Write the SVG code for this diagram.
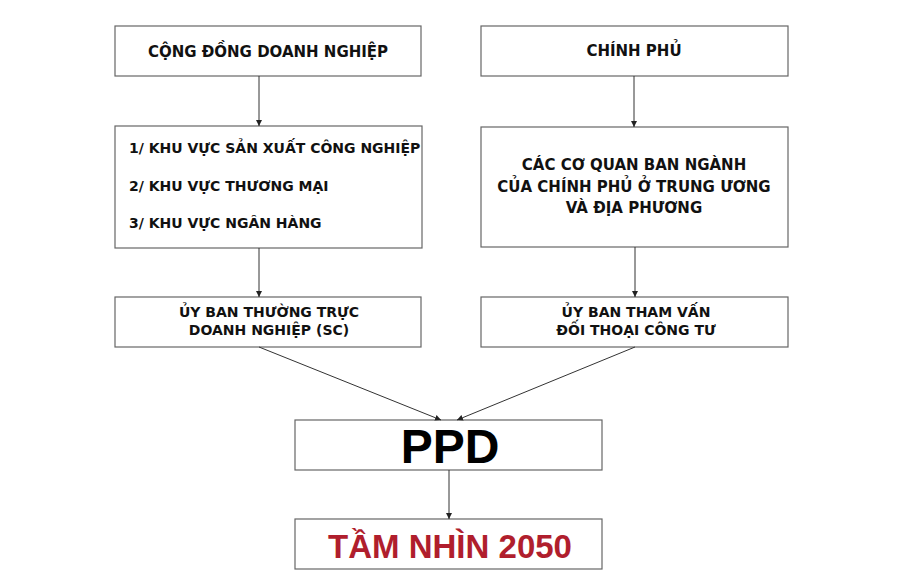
<svg xmlns="http://www.w3.org/2000/svg" width="897" height="571" viewBox="0 0 897 571">
<defs>
<marker id="ah" viewBox="0 0 10 10" refX="10" refY="5" markerWidth="6" markerHeight="6" orient="auto" markerUnits="userSpaceOnUse">
<path d="M0,0 L10,5 L0,10 z" fill="#222"/>
</marker>
<style>
.box{fill:#fff;stroke:#666;stroke-width:1.2}
.t{font-family:"DejaVu Sans",Verdana,sans-serif;font-weight:bold;fill:#111}
.c{stroke:#333;stroke-width:1;fill:none;marker-end:url(#ah)}
</style>
</defs>
<rect width="897" height="571" fill="#fff"/>
<g id="cong-dong">
<rect class="box" x="115" y="26" width="306" height="50"/>
<text class="t" x="268" y="57" font-size="15" text-anchor="middle">CỘNG ĐỒNG DOANH NGHIỆP</text>
</g>
<g id="khu-vuc">
<rect class="box" x="115" y="126" width="307" height="122"/>
<text class="t" x="129" y="153" font-size="14">1/ KHU VỰC SẢN XUẤT CÔNG NGHIỆP</text>
<text class="t" x="129" y="191" font-size="14">2/ KHU VỰC THƯƠNG MẠI</text>
<text class="t" x="129" y="228" font-size="14">3/ KHU VỰC NGÂN HÀNG</text>
</g>
<g id="chinh-phu">
<rect class="box" x="481" y="26" width="307" height="50"/>
<text class="t" x="634" y="56" font-size="15" text-anchor="middle">CHÍNH PHỦ</text>
</g>
<g id="co-quan">
<rect class="box" x="481" y="127" width="307" height="120"/>
<text class="t" x="634" y="170" font-size="15" text-anchor="middle">CÁC CƠ QUAN BAN NGÀNH</text>
<text class="t" x="634" y="192" font-size="15" text-anchor="middle">CỦA CHÍNH PHỦ Ở TRUNG ƯƠNG</text>
<text class="t" x="634" y="213" font-size="15" text-anchor="middle">VÀ ĐỊA PHƯƠNG</text>
</g>
<g id="uy-ban-sc">
<rect class="box" x="115" y="297" width="306" height="50"/>
<text class="t" x="269" y="317" font-size="14" text-anchor="middle">ỦY BAN THƯỜNG TRỰC</text>
<text class="t" x="269" y="335" font-size="14" text-anchor="middle">DOANH NGHIỆP (SC)</text>
</g>
<g id="uy-ban-tham-van">
<rect class="box" x="481" y="297" width="307" height="50"/>
<text class="t" x="636" y="317" font-size="14" text-anchor="middle">ỦY BAN THAM VẤN</text>
<text class="t" x="636" y="335" font-size="14" text-anchor="middle">ĐỐI THOẠI CÔNG TƯ</text>
</g>
<g id="ppd">
<rect class="box" x="295" y="420" width="307" height="50"/>
<text x="450" y="463" font-family="'Liberation Sans',Arial,sans-serif" font-weight="bold" font-size="48" text-anchor="middle" fill="#000">PPD</text>
</g>
<g id="tam-nhin">
<rect class="box" x="295" y="519" width="307" height="50"/>
<text x="450" y="558" font-family="'Liberation Sans',Arial,sans-serif" font-weight="bold" font-size="33" text-anchor="middle" fill="#B01E2D">TẦM NHÌN 2050</text>
</g>
<g id="connectors">
<line class="c" x1="259" y1="76" x2="259" y2="126"/>
<line class="c" x1="634" y1="76" x2="634" y2="127"/>
<line class="c" x1="259" y1="248" x2="259" y2="297"/>
<line class="c" x1="635" y1="247" x2="635" y2="297"/>
<line class="c" x1="259" y1="347" x2="441" y2="420"/>
<line class="c" x1="635" y1="347" x2="457" y2="420"/>
<line class="c" x1="449" y1="470" x2="449" y2="519"/>
</g>
</svg>
